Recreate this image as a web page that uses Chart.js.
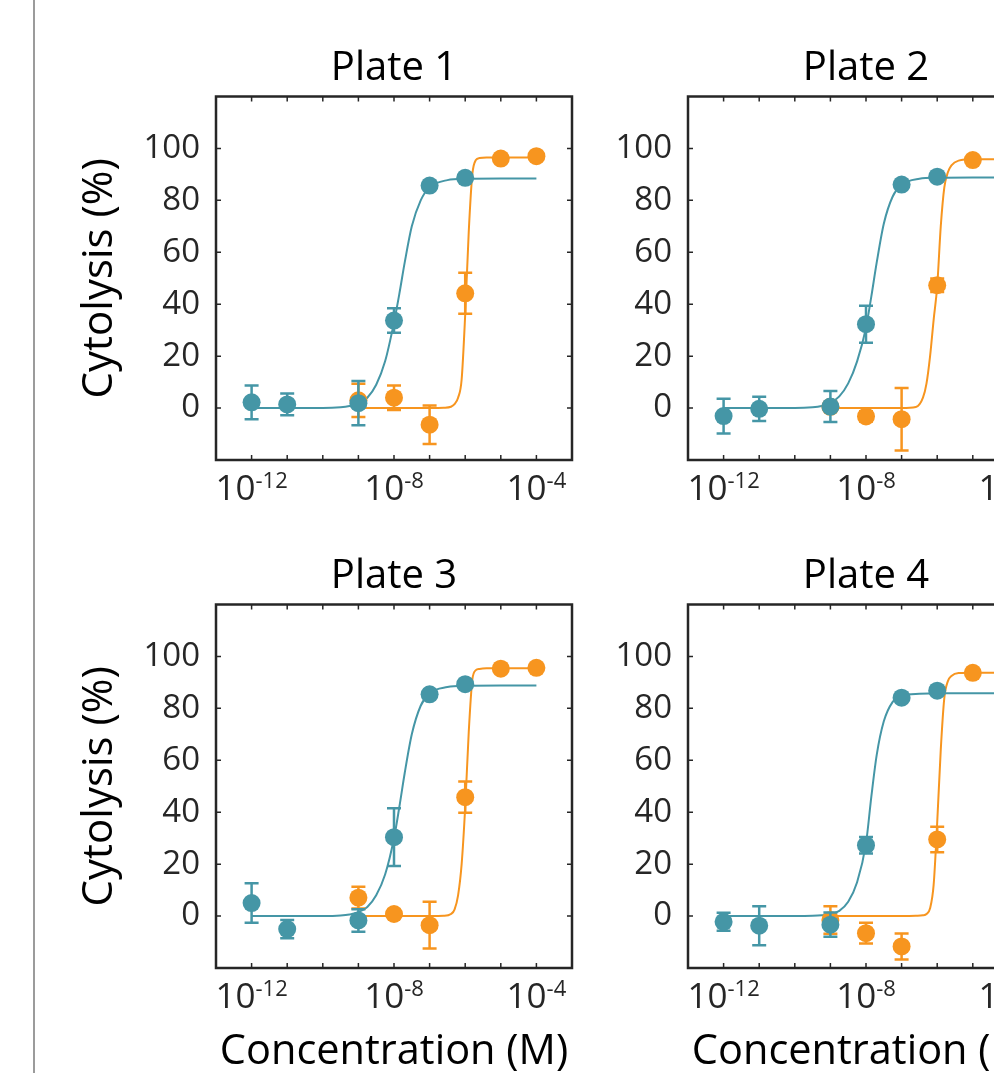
<!DOCTYPE html>
<html>
<head>
<meta charset="utf-8">
<script src="https://cdn.jsdelivr.net/npm/chart.js@4.4.0/dist/chart.umd.min.js"></script>
<style>
  html, body { margin: 0; padding: 0; background: #fff; }
  body { width: 994px; height: 1073px; overflow: hidden; position: relative; }
  .edge { position: absolute; left: 33px; top: 0; width: 2px; height: 1073px; background: #9b9b9b; }
  .panel { position: absolute; width: 552px; height: 565px; }
</style>
</head>
<body>
<div class="edge"></div>
<div class="panel" style="left:40px;top:0px"><canvas id="plate1"></canvas></div>
<div class="panel" style="left:512px;top:0px"><canvas id="plate2"></canvas></div>
<div class="panel" style="left:40px;top:508px"><canvas id="plate3"></canvas></div>
<div class="panel" style="left:512px;top:508px"><canvas id="plate4"></canvas></div>
<script>
// concentrations (M)
const tealConc = [1e-12, 1e-11, 1e-9, 1e-8, 1e-7, 1e-6];
const orangeConc = [1e-9, 1e-8, 1e-7, 1e-6, 1e-5, 1e-4];

const tealFitExp = [-12, -10, -9.5, -9.25, -9, -8.75, -8.5, -8.25, -8, -7.85, -7.7, -7.5, -7.25, -7, -6.5, -6, -5, -4];
const orangeFitExp = [-9, -7, -6.6, -6.4, -6.3, -6.2, -6.1, -6, -5.9, -5.8, -5.7, -5.6, -5.4, -5, -4];

const xTickExp = [-12, -11, -10, -9, -8, -7, -6, -5, -4];
const xLabelExp = [-12, -8, -4];
const yTicks = [0, 20, 40, 60, 80, 100];

// Plate 1
const plate1Teal = [2.2, 1.4, 1.9, 33.7, 85.7, 88.7];
const plate1TealErr = [6.5, 4.2, 8.5, 4.7, 1.2, 1.0];
const plate1Orange = [3.0, 4.0, -6.4, 44.2, 96.1, 97.0];
const plate1OrangeErr = [6.4, 4.7, 7.4, 7.9, 1.0, 0.8];
const plate1TealFit = [0, 0, 0.3, 0.8, 1.8, 4, 9, 18, 33, 44, 56, 70, 80, 85, 87.8, 88.3, 88.4, 88.4];
const plate1OrangeFit = [0, 0, 0.1, 0.5, 1.5, 4, 11, 36, 68, 90, 95.5, 96.3, 96.5, 96.5, 96.5];

// Plate 2
const plate2Teal = [-3.1, -0.3, 0.6, 32.3, 86.1, 89.1];
const plate2TealErr = [6.7, 4.7, 6.0, 7.1, 1.0, 1.0];
const plate2Orange = [0.5, -3.2, -4.3, 47.3, 95.5, 95.8];
const plate2OrangeErr = [1.5, 2.0, 12.0, 2.6, 1.0, 1.0];
const plate2TealFit = [0, 0, 0.3, 0.8, 2, 4.5, 9.5, 18, 31, 43, 56, 71, 81.5, 86, 88.3, 88.7, 88.8, 88.8];
const plate2OrangeFit = [0, 0, 0.4, 4, 9.5, 20, 34, 47, 70, 85, 90.8, 93.5, 95.3, 95.8, 95.8];

// Plate 3
const plate3Teal = [5.0, -5.0, -1.7, 30.4, 85.4, 89.3];
const plate3TealErr = [7.6, 3.5, 4.3, 11.1, 1.0, 1.0];
const plate3Orange = [7.1, 0.8, -3.5, 45.8, 95.3, 95.6];
const plate3OrangeErr = [4.2, 1.5, 9.0, 6.0, 1.0, 1.0];
const plate3TealFit = [0, 0, 0.2, 0.6, 1.5, 3.5, 8, 16, 30, 42, 55, 70, 81, 85.8, 88.2, 88.7, 88.8, 88.8];
const plate3OrangeFit = [0, 0, 0.1, 0.8, 2.5, 8, 20, 42, 71, 91, 94.7, 95.2, 95.4, 95.4, 95.4];

// Plate 4
const plate4Teal = [-2.2, -3.7, -3.3, 27.3, 84.1, 86.8];
const plate4TealErr = [3.5, 7.5, 4.7, 3.2, 1.0, 1.0];
const plate4Orange = [-1.5, -6.6, -11.7, 29.5, 93.7, 93.7];
const plate4OrangeErr = [5.3, 4.0, 5.0, 4.9, 1.0, 1.0];
const plate4TealFit = [0, 0, 0.1, 0.3, 0.8, 2, 5.5, 13, 28, 46, 62, 75, 82.5, 84.9, 85.6, 85.8, 85.8, 85.8];
const plate4OrangeFit = [0, 0, 0.1, 0.3, 0.8, 3, 12, 36, 64, 84, 90.5, 92.5, 93.6, 93.7, 93.7];

const tealColor = '#4596a6';
const orangeColor = '#f7951f';
const axisColor = '#262626';
const fontFamily = "'Open Sans', sans-serif";

Chart.defaults.font.family = fontFamily;

// box, inward ticks, superscript x labels and error bars
const framePlugin = {
  id: 'frame',
  beforeDatasetDraw(chart, args) {
    const ds = chart.data.datasets[args.index];
    if (!ds.errors) return;
    const x = chart.scales.x, y = chart.scales.y;
    const ctx = chart.ctx;
    ctx.save();
    ctx.strokeStyle = ds.backgroundColor;
    ctx.lineWidth = 2.5;
    ds.data.forEach((p, i) => {
      const px = x.getPixelForValue(p.x);
      const top = y.getPixelForValue(p.y + ds.errors[i]);
      const bot = y.getPixelForValue(p.y - ds.errors[i]);
      ctx.beginPath();
      ctx.moveTo(px, top); ctx.lineTo(px, bot);
      ctx.moveTo(px - 7, top); ctx.lineTo(px + 7, top);
      ctx.moveTo(px - 7, bot); ctx.lineTo(px + 7, bot);
      ctx.stroke();
    });
    ctx.restore();
  },
  afterDraw(chart) {
    const ctx = chart.ctx;
    const a = chart.chartArea;
    const x = chart.scales.x, y = chart.scales.y;
    ctx.save();
    ctx.strokeStyle = axisColor;
    ctx.lineWidth = 2.5;
    ctx.strokeRect(a.left, a.top, a.right - a.left, a.bottom - a.top);

    ctx.lineWidth = 1.5;
    ctx.beginPath();
    xTickExp.forEach(e => {
      const px = x.getPixelForValue(Math.pow(10, e));
      ctx.moveTo(px, a.bottom); ctx.lineTo(px, a.bottom - 5);
      ctx.moveTo(px, a.top); ctx.lineTo(px, a.top + 5);
    });
    yTicks.forEach(v => {
      const py = y.getPixelForValue(v);
      ctx.moveTo(a.left, py); ctx.lineTo(a.left + 5, py);
      ctx.moveTo(a.right, py); ctx.lineTo(a.right - 5, py);
    });
    ctx.stroke();

    ctx.fillStyle = axisColor;
    ctx.textAlign = 'left';
    ctx.textBaseline = 'alphabetic';
    xLabelExp.forEach(e => {
      const base = '10', sup = String(e);
      ctx.font = '35px ' + fontFamily;
      const wb = ctx.measureText(base).width;
      ctx.font = '22px ' + fontFamily;
      const ws = ctx.measureText(sup).width;
      const px = x.getPixelForValue(Math.pow(10, e));
      const left = px - (wb + ws) / 2;
      ctx.font = '35px ' + fontFamily;
      ctx.fillText(base, left, a.bottom + 40);
      ctx.font = '22px ' + fontFamily;
      ctx.fillText(sup, left + wb, a.bottom + 28);
    });
    ctx.restore();
  }
};

function makePlate(id, title, teal, tealErr, orange, orangeErr, tealFit, orangeFit, showYTitle, showXTitle) {
  const ctx = document.getElementById(id).getContext('2d');
  new Chart(ctx, {
    type: 'scatter',
    data: {
      datasets: [
        {
          data: tealConc.map((c, i) => ({ x: c, y: teal[i] })),
          errors: tealErr,
          backgroundColor: tealColor,
          borderColor: tealColor,
          borderWidth: 0,
          pointRadius: 9,
          pointHoverRadius: 9,
          order: 0
        },
        {
          data: orangeConc.map((c, i) => ({ x: c, y: orange[i] })),
          errors: orangeErr,
          backgroundColor: orangeColor,
          borderColor: orangeColor,
          borderWidth: 0,
          pointRadius: 9,
          pointHoverRadius: 9,
          order: 1
        },
        {
          data: tealFitExp.map((e, i) => ({ x: Math.pow(10, e), y: tealFit[i] })),
          showLine: true,
          borderColor: tealColor,
          borderWidth: 2,
          pointRadius: 0,
          cubicInterpolationMode: 'monotone',
          order: 2
        },
        {
          data: orangeFitExp.map((e, i) => ({ x: Math.pow(10, e), y: orangeFit[i] })),
          showLine: true,
          borderColor: orangeColor,
          borderWidth: 2,
          pointRadius: 0,
          cubicInterpolationMode: 'monotone',
          order: 3
        }
      ]
    },
    options: {
      responsive: true,
      maintainAspectRatio: false,
      animation: false,
      events: [],
      layout: { padding: { left: 0, top: 0, right: 20, bottom: 0 }, autoPadding: false },
      plugins: {
        legend: { display: false },
        tooltip: { enabled: false },
        title: {
          display: true,
          text: title,
          color: '#000',
          fullSize: false,
          font: { size: 40, weight: 'normal', lineHeight: 1.2 },
          padding: { top: 44.6, bottom: 3.9 }
        }
      },
      scales: {
        x: {
          type: 'logarithmic',
          min: 1e-13,
          max: 1e-3,
          grid: { display: false, drawTicks: false },
          border: { display: false },
          ticks: { display: false },
          afterFit: s => { s.height = 105; },
          title: {
            display: showXTitle,
            text: 'Concentration (M)',
            color: '#000',
            font: { size: 41.5, lineHeight: 1.0 },
            padding: { top: 0, bottom: 0 }
          }
        },
        y: {
          min: -20,
          max: 120,
          grid: { display: false, drawTicks: false },
          border: { display: false },
          ticks: { color: axisColor, font: { size: 33 }, padding: 16 },
          afterBuildTicks: s => { s.ticks = yTicks.map(v => ({ value: v })); },
          afterFit: s => { s.width = 176; },
          title: {
            display: showYTitle,
            text: 'Cytolysis (%)',
            color: '#000',
            font: { size: 42, lineHeight: 1.2 },
            padding: { top: 35.3, bottom: 0 }
          }
        }
      }
    },
    plugins: [framePlugin]
  });
}

makePlate('plate1', 'Plate 1', plate1Teal, plate1TealErr, plate1Orange, plate1OrangeErr, plate1TealFit, plate1OrangeFit, true, false);
makePlate('plate2', 'Plate 2', plate2Teal, plate2TealErr, plate2Orange, plate2OrangeErr, plate2TealFit, plate2OrangeFit, false, false);
makePlate('plate3', 'Plate 3', plate3Teal, plate3TealErr, plate3Orange, plate3OrangeErr, plate3TealFit, plate3OrangeFit, true, true);
makePlate('plate4', 'Plate 4', plate4Teal, plate4TealErr, plate4Orange, plate4OrangeErr, plate4TealFit, plate4OrangeFit, false, true);
</script>
</body>
</html>
